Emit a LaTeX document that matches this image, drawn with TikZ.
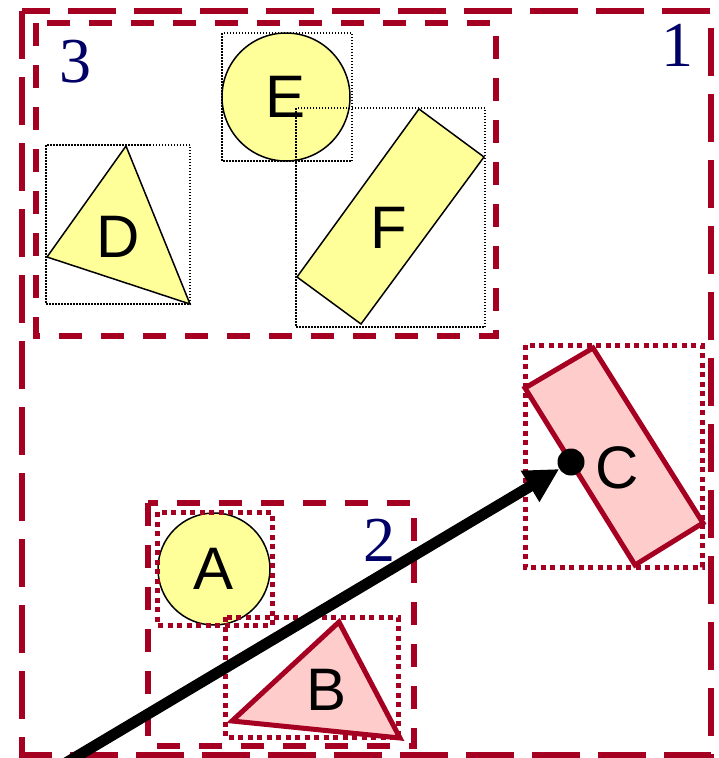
\documentclass[tikz,border=0pt]{standalone}
\usepackage{fontspec}
\setmainfont{Liberation Serif}
\setsansfont{Liberation Sans}
\usetikzlibrary{arrows.meta}
\definecolor{boxred}{HTML}{A50021}
\definecolor{shapeyellow}{HTML}{FFFF99}
\definecolor{shapepink}{HTML}{FFCCCC}
\definecolor{labelnavy}{HTML}{000066}

\begin{document}
\begin{tikzpicture}[x=1pt, y=-1pt,
  group/.style={draw=boxred, line width=6pt, dash pattern=on 23pt off 19pt},
  outer/.style={group, dash pattern=on 48pt off 18pt},
  hull/.style={draw=boxred, line width=5pt, dash pattern=on 5pt off 4.5pt},
  hullthin/.style={draw=black, line width=1.5pt, dash pattern=on 1.5pt off 1.5pt},
  plain/.style={draw=black, line width=1.5pt, fill=shapeyellow},
  hit/.style={draw=boxred, line width=5pt, fill=shapepink},
  ball/.style={plain, circle, inner sep=0pt, font=\sffamily\fontsize{60}{60}\selectfont},
  letter/.style={font=\sffamily\fontsize{60}{60}\selectfont, inner sep=0pt},
  num/.style={font=\fontsize{64}{64}\selectfont, text=labelnavy, inner sep=0pt},
  ray/.style={-{Triangle[length=34pt,width=34pt]}, line width=11pt}
]
\useasboundingbox (0,0) rectangle (718,758);

\draw[outer] (22,11) rectangle (711,755);
\draw[group] (36,23) rectangle (496,336);
\draw[group] (148,503) rectangle (414,746);
\node[num] (n1) at (677,45) {1};
\node[num] (n3) at (75,62) {3};
\node[num] (n2) at (379,540) {2};

\node[ball, minimum size=128pt] (shE) at (286,97) {E};
\draw[hullthin] (222,33) rectangle (352,161);
\draw[plain] (126,146) -- (190,304) -- (47,257) -- cycle;
\node[letter] (labD) at (118,237) {D};
\draw[hullthin] (46,145) rectangle (190,304);
\draw[plain] (419,109) -- (484,157) -- (361,324) -- (297,277) -- cycle;
\node[letter] (labF) at (389,228) {F};
\draw[hullthin] (296,108) rectangle (485,327);

\node[ball, minimum size=112pt] (shA) at (214,569) {A};
\draw[hit] (339,622) -- (400,738) -- (232,721) -- cycle;
\node[letter] (labB) at (327,690) {B};
\draw[hull] (157,512) rectangle (272,625);
\draw[hull] (225,617) rectangle (398,737);

\draw[hit] (593,348) -- (703,523) -- (635,565) -- (525,388) -- cycle;
\draw[hull] (525,345) rectangle (702,567);
\node[circle, fill=black, minimum size=27pt, inner sep=0pt] (pivot) at (571,462) {};
\node[letter] (labC) at (617,468) {C};

\coordinate (tail) at (54,770);
\draw[ray] (tail) -- (pivot);
\end{tikzpicture}
\end{document}
